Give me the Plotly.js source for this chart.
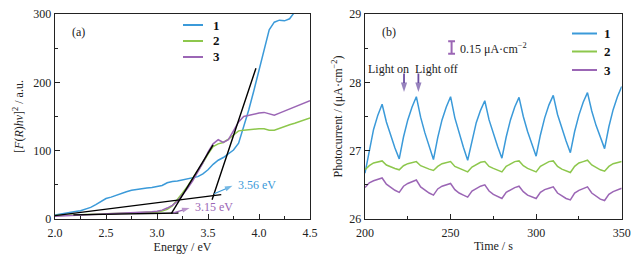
<!DOCTYPE html>
<html>
<head>
<meta charset="utf-8">
<script src="https://cdn.plot.ly/plotly-3.0.1.min.js"></script>
<style>html,body{margin:0;padding:0;background:#fff}#chart{width:639px;height:267px}</style>
</head>
<body>
<div id="chart"></div>
<script>
// ---------- Panel (a): Tauc plot ----------
const energy1 = [2.00,2.05,2.10,2.15,2.20,2.25,2.30,2.35,2.40,2.45,2.50,2.55,2.60,2.65,2.70,2.75,2.80,2.85,2.90,2.95,3.00,3.05,3.10,3.15,3.20,3.25,3.30,3.35,3.40,3.45,3.50,3.55,3.60,3.65,3.70,3.75,3.80,3.85,3.90,3.95,4.00,4.05,4.10,4.15,4.20,4.25,4.30,4.34];
const tauc1 = [6,7.5,9,10,11,12,14,17,21,26,30,32,35,37,40,42,43.5,45,45.5,46,47,49,53,55,55.5,57,59,60,62,66,72,80,86,90,95,101,111,135,160,188,218,250,277,288,291,290,293,301];
const energy23 = [2.00,2.05,2.10,2.15,2.20,2.25,2.30,2.35,2.40,2.45,2.50,2.55,2.60,2.65,2.70,2.75,2.80,2.85,2.90,2.95,3.00,3.05,3.10,3.15,3.20,3.25,3.30,3.35,3.40,3.45,3.50,3.55,3.60,3.65,3.70,3.75,3.80,3.85,3.90,3.95,4.00,4.05,4.10,4.15,4.20,4.25,4.30,4.35,4.40,4.45,4.50];
const tauc2 = [5,5.5,5.8,6,6.2,6.4,6.6,6.8,7,7.2,7.4,7.6,7.8,8,8.1,8.3,8.5,8.7,9,9.5,10.2,11.5,14,19,28,38,48,59,70,82,95,106,110,112,117,123,129,130,131,131,132,132,130,130,133,135,138,140,143,145,148];
const tauc3 = [4,4.3,4.6,5,5.3,5.6,6,6.3,6.6,7,7.2,7.5,7.8,8,8.2,8.5,8.8,9.2,9.8,10.5,11.5,13,16,20,26,35,45,56,68,82,98,110,116,112,116,128,142,150,152,153,155,156,154,152,155,158,160,163,166,169,173];
// tangent / baseline construction lines
const baseLow_x = [2.18, 3.21], baseLow_y = [6, 8.8];
const tanLow_x = [3.14, 3.55], tanLow_y = [7.8, 108.6];
const baseHigh_x = [2.00, 3.63], baseHigh_y = [4.9, 35.6];
const tanHigh_x = [3.54, 3.97], tanHigh_y = [28.3, 220.7];
const gapLabels = ['3.56 eV', '3.15 eV'];

// ---------- Panel (b): photocurrent ----------
const time = [200,202.5,205,207.5,210,212.5,215,217.5,220,222.5,225,227.5,230,232.5,235,237.5,240,242.5,245,247.5,250,252.5,255,257.5,260,262.5,265,267.5,270,272.5,275,277.5,280,282.5,285,287.5,290,292.5,295,297.5,300,302.5,305,307.5,310,312.5,315,317.5,320,322.5,325,327.5,330,332.5,335,337.5,340,342.5,345,347.5,350];
const photo1 = [26.67,27.02,27.31,27.52,27.68,27.42,27.22,27.04,26.88,27.20,27.45,27.64,27.79,27.49,27.26,27.05,26.87,27.19,27.45,27.64,27.79,27.48,27.25,27.05,26.86,27.16,27.41,27.59,27.73,27.45,27.24,27.06,26.89,27.20,27.45,27.64,27.78,27.50,27.28,27.09,26.92,27.23,27.48,27.67,27.81,27.53,27.32,27.14,26.97,27.28,27.52,27.71,27.85,27.58,27.37,27.19,27.03,27.35,27.60,27.79,27.94];
const photo2 = [26.72,26.78,26.82,26.84,26.85,26.79,26.76,26.74,26.72,26.78,26.81,26.83,26.84,26.78,26.75,26.73,26.71,26.77,26.81,26.83,26.84,26.77,26.74,26.71,26.69,26.76,26.80,26.83,26.84,26.77,26.74,26.71,26.69,26.77,26.81,26.84,26.85,26.78,26.74,26.71,26.69,26.77,26.81,26.84,26.85,26.77,26.73,26.70,26.68,26.77,26.82,26.84,26.86,26.79,26.75,26.72,26.70,26.77,26.81,26.83,26.84];
const photo3 = [26.46,26.53,26.56,26.58,26.60,26.51,26.46,26.42,26.39,26.48,26.52,26.55,26.57,26.47,26.42,26.38,26.35,26.44,26.48,26.50,26.52,26.43,26.38,26.35,26.32,26.41,26.45,26.48,26.50,26.41,26.36,26.33,26.30,26.39,26.43,26.46,26.48,26.40,26.35,26.32,26.30,26.39,26.43,26.45,26.47,26.38,26.34,26.30,26.28,26.38,26.42,26.45,26.47,26.38,26.33,26.29,26.27,26.36,26.40,26.43,26.45];
const seriesNames = ['1', '2', '3'];

const COLORS = ['#3b9ad9', '#8dc74c', '#9b66b5'];
const CA = '#6b4ea2';
const FONT = 'Liberation Serif';
const INK = '#222';
const FS = 12;

function arrowTrace(xs, ys, color, w, size, xa, ya) {
  return {x: xs, y: ys, mode: 'lines+markers', showlegend: false, hoverinfo: 'skip',
    line: {color: color, width: w},
    marker: {symbol: 'arrow', size: [0, size], angleref: 'previous', color: color, line: {width: 0}},
    xaxis: xa, yaxis: ya};
}
const blk = {color: '#000', width: 1.4};

const traces = [
  {x: energy1, y: tauc1, name: seriesNames[0], mode: 'lines', line: {color: COLORS[0], width: 1.5}, xaxis: 'x', yaxis: 'y', showlegend: false},
  {x: energy23, y: tauc2, name: seriesNames[1], mode: 'lines', line: {color: COLORS[1], width: 1.5}, xaxis: 'x', yaxis: 'y', showlegend: false},
  {x: energy23, y: tauc3, name: seriesNames[2], mode: 'lines', line: {color: COLORS[2], width: 1.5}, xaxis: 'x', yaxis: 'y', showlegend: false},
  {x: baseLow_x, y: baseLow_y, mode: 'lines', line: blk, showlegend: false, xaxis: 'x', yaxis: 'y'},
  {x: tanLow_x, y: tanLow_y, mode: 'lines', line: blk, showlegend: false, xaxis: 'x', yaxis: 'y'},
  {x: baseHigh_x, y: baseHigh_y, mode: 'lines', line: blk, showlegend: false, xaxis: 'x', yaxis: 'y'},
  {x: tanHigh_x, y: tanHigh_y, mode: 'lines', line: blk, showlegend: false, xaxis: 'x', yaxis: 'y'},
  arrowTrace([3.56, 3.74], [37, 48.5], COLORS[0], 1.2, 8, 'x', 'y'),
  arrowTrace([3.16, 3.32], [9, 16], COLORS[2], 1.2, 8, 'x', 'y'),
  {x: time, y: photo1, name: seriesNames[0], mode: 'lines', line: {color: COLORS[0], width: 1.5}, xaxis: 'x2', yaxis: 'y2', showlegend: false},
  {x: time, y: photo2, name: seriesNames[1], mode: 'lines', line: {color: COLORS[1], width: 1.5}, xaxis: 'x2', yaxis: 'y2', showlegend: false},
  {x: time, y: photo3, name: seriesNames[2], mode: 'lines', line: {color: COLORS[2], width: 1.5}, xaxis: 'x2', yaxis: 'y2', showlegend: false},
  arrowTrace([222.8, 222.8], [28.13, 27.86], CA, 1.8, 10, 'x2', 'y2'),
  arrowTrace([231.2, 231.2], [28.13, 27.86], CA, 1.8, 10, 'x2', 'y2')
];

const yDom = [1 - 219/267, 1 - 14/267];
function axisBase(extra) {
  return Object.assign({
    showline: true, linecolor: INK, linewidth: 1.3, mirror: true,
    ticks: 'inside', ticklen: 5, tickwidth: 1, tickcolor: INK,
    showgrid: false, zeroline: false, automargin: false,
    tickfont: {family: FONT, size: FS, color: INK}
  }, extra);
}
const titleFont = {family: FONT, size: FS, color: INK};

// hand-drawn legends (line sample + bold label), positions in pixels
const legendA = {x0: 183, x1: 203, tx: 211, ys: [25, 41, 57]};
const legendB = {x0: 572, x1: 597, tx: 602, ys: [33.5, 51.5, 70]};
const shapes = [
  {type: 'line', xref: 'x2', yref: 'y2', x0: 250.6, x1: 250.6, y0: 28.42, y1: 28.6, line: {color: COLORS[2], width: 2}},
  {type: 'line', xref: 'x2', yref: 'y2', x0: 248.6, x1: 252.6, y0: 28.42, y1: 28.42, line: {color: COLORS[2], width: 2}},
  {type: 'line', xref: 'x2', yref: 'y2', x0: 248.6, x1: 252.6, y0: 28.6, y1: 28.6, line: {color: COLORS[2], width: 2}}
];
const annotations = [
  {text: '(a)', x: 2.235, y: 274, xref: 'x', yref: 'y', showarrow: false, font: {family: FONT, size: FS, color: INK}},
  {text: gapLabels[0], x: 3.77, y: 50, xref: 'x', yref: 'y', xanchor: 'left', showarrow: false, font: {family: FONT, size: FS, color: COLORS[0]}},
  {text: gapLabels[1], x: 3.35, y: 17, xref: 'x', yref: 'y', xanchor: 'left', showarrow: false, font: {family: FONT, size: FS, color: COLORS[2]}},
  {text: '(b)', x: 214, y: 28.74, xref: 'x2', yref: 'y2', showarrow: false, font: {family: FONT, size: FS, color: INK}},
  {text: '0.15 μA·cm<sup>−2</sup>', x: 254.5, y: 28.5, xref: 'x2', yref: 'y2', xanchor: 'left', showarrow: false, font: {family: FONT, size: FS, color: INK}},
  {text: 'Light on', x: 213.5, y: 28.2, xref: 'x2', yref: 'y2', showarrow: false, font: {family: FONT, size: FS, color: INK}},
  {text: 'Light off', x: 242, y: 28.2, xref: 'x2', yref: 'y2', showarrow: false, font: {family: FONT, size: FS, color: INK}}
];
[legendA, legendB].forEach(function (lg) {
  lg.ys.forEach(function (py, i) {
    shapes.push({type: 'line', xref: 'paper', yref: 'paper', x0: lg.x0/639, x1: lg.x1/639, y0: 1 - py/267, y1: 1 - py/267,
      line: {color: COLORS[i], width: 2}});
    annotations.push({text: '<b>' + seriesNames[i] + '</b>', xref: 'paper', yref: 'paper', x: lg.tx/639, y: 1 - py/267,
      xanchor: 'left', yanchor: 'middle', showarrow: false, font: {family: FONT, size: 13, color: '#111'}});
  });
});

const layout = {
  width: 639, height: 267,
  margin: {l: 0, r: 0, t: 0, b: 0},
  paper_bgcolor: '#fff', plot_bgcolor: '#fff',
  font: {family: FONT, color: INK},
  showlegend: false,
  xaxis: axisBase({domain: [55/639, 310/639], range: [2, 4.5], dtick: 0.5, tick0: 2, tickformat: '.1f', ticklabelstandoff: 2,
    minor: {dtick: 0.25, ticks: 'inside', ticklen: 3, tickcolor: INK, showgrid: false},
    title: {text: 'Energy / eV', font: titleFont, standoff: 3}, anchor: 'y'}),
  yaxis: axisBase({domain: yDom, range: [0, 300], dtick: 100,
    minor: {dtick: 50, ticks: 'inside', ticklen: 3, tickcolor: INK, showgrid: false},
    title: {text: '[<i>F</i>(<i>R</i>)<i>hν</i>]<sup>2</sup> / a.u.', font: titleFont, standoff: 7}, anchor: 'x'}),
  xaxis2: axisBase({domain: [365/639, 621.7/639], range: [200, 350], dtick: 50, ticklabelstandoff: 2,
    minor: {dtick: 25, ticks: 'inside', ticklen: 3, tickcolor: INK, showgrid: false},
    title: {text: 'Time / s', font: titleFont, standoff: 3}, anchor: 'y2'}),
  yaxis2: axisBase({domain: yDom, range: [26, 29], dtick: 1,
    minor: {dtick: 0.5, ticks: 'inside', ticklen: 3, tickcolor: INK, showgrid: false},
    title: {text: 'Photocurrent / (μA·cm<sup>−2</sup>)', font: titleFont, standoff: 4}, anchor: 'x2'}),
  shapes: shapes,
  annotations: annotations
};

Plotly.newPlot('chart', traces, layout, {staticPlot: true, displayModeBar: false});
</script>
</body>
</html>
